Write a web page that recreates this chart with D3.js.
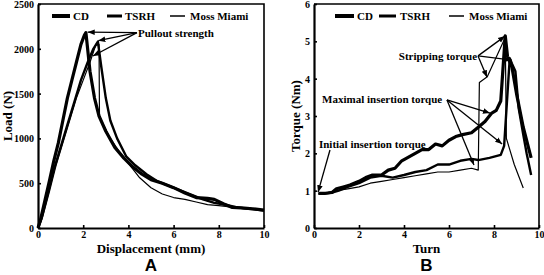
<!DOCTYPE html>
<html><head><meta charset="utf-8">
<script src="https://cdn.jsdelivr.net/npm/d3@7"></script>
<style>
body{margin:0;background:#fff;}
svg text{font-family:"Liberation Serif","Times New Roman",serif;font-weight:bold;fill:#000;}
</style></head>
<body><svg id="c" width="544" height="275"></svg>
<script>
// ---------- Data: Panel A (Load vs Displacement) ----------
const cdA_x = [0,0.1,0.3,0.5,0.7,0.9,1.1,1.3,1.5,1.7,1.9,2.05,2.12,2.3,2.5,2.7,3.0,3.4,3.8,4.2,4.6,5.0,5.5,6.0,6.5,7.0,7.5,7.8,8.2,8.6,9.0,9.5,10];
const cdA_y = [0,80,300,520,750,950,1200,1450,1650,1850,2050,2150,2180,1750,1450,1250,1080,900,780,680,600,540,500,450,390,340,330,320,270,230,225,215,200];
const tsA_x = [0,0.15,0.4,0.7,1.0,1.3,1.6,1.9,2.2,2.45,2.65,2.8,3.0,3.2,3.5,3.9,4.3,4.8,5.3,5.8,6.3,6.8,7.3,7.8,8.3,8.8,9.3,10];
const tsA_y = [0,100,350,650,900,1150,1400,1650,1850,2000,2080,1800,1450,1200,1000,800,700,600,520,470,420,370,320,280,260,230,215,195];
const mmA_x = [0,0.2,0.5,0.8,1.1,1.4,1.7,2.0,2.3,2.55,2.7,2.72,2.9,3.2,3.6,4.0,4.5,5.0,5.5,6.0,6.5,7.0,7.5,8.0,8.5,9.0,9.5,10];
const mmA_y = [0,120,400,700,950,1200,1450,1650,1850,2040,2050,1250,1150,1000,850,720,560,450,380,340,320,290,260,250,235,220,210,200];
const ticksA_x = [0,2,4,6,8,10];
const ticksA_y = [0,500,1000,1500,2000,2500];

// ---------- Data: Panel B (Torque vs Turn) ----------
const cdB_x = [0.2,0.5,0.8,1.0,1.3,1.6,2.0,2.3,2.6,3.0,3.3,3.6,3.9,4.2,4.5,4.8,5.1,5.4,5.7,6.0,6.3,6.6,7.0,7.3,7.6,7.9,8.1,8.3,8.5,8.6,8.8,9.0,9.3,9.65];
const cdB_y = [0.93,0.93,0.95,1.05,1.1,1.15,1.25,1.35,1.42,1.42,1.55,1.6,1.8,1.9,2.0,2.1,2.1,2.25,2.2,2.35,2.45,2.5,2.55,2.7,2.85,3.08,3.15,3.4,5.15,4.6,4.3,3.6,2.7,1.88];
const tsB_x = [0.2,0.5,0.8,1.1,1.5,2.0,2.5,3.0,3.5,4.0,4.5,5.0,5.5,6.0,6.5,7.0,7.3,7.8,8.3,8.45,8.7,8.8,8.95,9.1,9.3,9.45,9.65];
const tsB_y = [0.92,0.92,0.95,1.0,1.1,1.2,1.35,1.4,1.35,1.42,1.5,1.55,1.7,1.7,1.8,1.85,1.82,1.88,1.96,2.2,4.55,4.4,4.2,3.2,2.5,2.0,1.42];
const mmB_x = [0.2,0.6,1.0,1.5,2.0,2.5,3.0,3.5,4.0,4.5,5.0,5.5,6.0,6.5,7.0,7.3,7.35,7.7,8.5,8.55,8.9,9.3];
const mmB_y = [0.92,0.95,1.0,1.05,1.1,1.2,1.25,1.3,1.35,1.4,1.45,1.5,1.5,1.55,1.6,1.55,3.9,4.05,5.1,2.4,1.7,1.07];
const ticksB_x = [0,2,4,6,8,10];
const ticksB_y = [0,1,2,3,4,5,6];

// Annotations (data units): label anchor + arrow targets
const annA = {text:"Pullout strength", from:[4.38,2180], to:[[2.2,2185],[2.67,2090],[2.43,1920]]};
const annB = [
  {text:"Stripping torque", from:[7.29,4.61], to:[[8.49,5.14],[8.78,4.5],[7.69,4.04]], anchor:"end", lx:7.25, ly:4.5},
  {text:"Maximal insertion torque", from:[5.91,3.43], to:[[7.82,3.08],[7.11,1.69],[8.36,2.25]], anchor:"end", lx:5.7, ly:3.35},
  {text:"Initial insertion torque", from:[0.71,2.09], to:[[0.18,0.96]], anchor:"start", lx:0.22, ly:2.15}
];

const svg = d3.select("#c");
const defs = svg.append("defs");
defs.append("marker").attr("id","arr").attr("viewBox","0 0 10 10").attr("refX",10).attr("refY",5)
  .attr("markerWidth",7).attr("markerHeight",7).attr("markerUnits","userSpaceOnUse").attr("orient","auto")
  .append("path").attr("d","M0,1 L10,5 L0,9 Z").attr("fill","#000");

function panel(o){
  const g = svg.append("g");
  const x = d3.scaleLinear().domain([0,10]).range([o.x0,o.x1]);
  const y = d3.scaleLinear().domain(o.ydom).range([o.y1,o.y0]);
  // frame top/right
  g.append("path").attr("d",`M${o.x0},${o.y0}H${o.x1}V${o.y1}`).attr("fill","none").attr("stroke","#000").attr("stroke-width",1.6);
  const xa = g.append("g").attr("transform",`translate(0,${o.y1})`)
    .call(d3.axisBottom(x).tickValues(o.xt).tickSizeInner(-3).tickSizeOuter(0).tickPadding(3).tickFormat(d3.format("d")));
  const ya = g.append("g").attr("transform",`translate(${o.x0},0)`)
    .call(d3.axisLeft(y).tickValues(o.yt).tickSizeInner(-3).tickSizeOuter(0).tickPadding(4).tickFormat(d3.format("d")));
  [xa,ya].forEach(a=>{
    a.select(".domain").attr("stroke-width",2.2);
    a.selectAll(".tick line").attr("stroke-width",1.6);
    a.selectAll("text").style("font-size","10px").attr("font-family",null);
  });
  ya.selectAll(".tick text").attr("dy","0.35em");
  const line = d3.line().x(d=>x(d[0])).y(d=>y(d[1]));
  o.series.forEach(s=>{
    g.append("path").datum(d3.zip(s.x,s.y)).attr("d",line).attr("fill","none")
      .attr("stroke","#000").attr("stroke-width",s.w).attr("stroke-linejoin","round");
  });
  // legend
  o.legend.forEach(l=>{
    g.append("line").attr("x1",l.lx0).attr("x2",l.lx1).attr("y1",o.y0+12).attr("y2",o.y0+12)
      .attr("stroke","#000").attr("stroke-width",l.w);
    g.append("text").attr("x",l.tx).attr("y",o.y0+16).style("font-size","11px").text(l.t);
  });
  g.append("text").attr("x",(o.x0+o.x1)/2).attr("y",253).attr("text-anchor","middle").style("font-size","13px").text(o.xlab);
  g.append("text").attr("transform",`translate(${o.ylx},${(o.y0+o.y1)/2}) rotate(-90)`).attr("text-anchor","middle").style("font-size","13px").text(o.ylab);
  g.append("text").attr("x",(o.x0+o.x1)/2).attr("y",271).attr("text-anchor","middle")
    .style("font-family","'Liberation Sans',Arial,sans-serif").style("font-size","17px").text(o.letter);
  return {g,x,y};
}

const A = panel({x0:38,x1:264,y0:4,y1:228,ydom:[0,2500],xt:ticksA_x,yt:ticksA_y,
  series:[{x:cdA_x,y:cdA_y,w:3.2},{x:tsA_x,y:tsA_y,w:2.4},{x:mmA_x,y:mmA_y,w:1.2}],
  legend:[{lx0:52,lx1:70,w:4,tx:73,t:"CD"},{lx0:107,lx1:122,w:3,tx:125,t:"TSRH"},{lx0:170,lx1:185,w:1.5,tx:190,t:"Moss Miami"}],
  xlab:"Displacement (mm)",ylab:"Load (N)",ylx:12,letter:"A"});

const B = panel({x0:314,x1:539,y0:4,y1:228,ydom:[0,6],xt:ticksB_x,yt:ticksB_y,
  series:[{x:cdB_x,y:cdB_y,w:3.2},{x:tsB_x,y:tsB_y,w:2.4},{x:mmB_x,y:mmB_y,w:1.2}],
  legend:[{lx0:335,lx1:354,w:4,tx:357,t:"CD"},{lx0:379,lx1:396,w:3,tx:400,t:"TSRH"},{lx0:449,lx1:464,w:1.5,tx:469,t:"Moss Miami"}],
  xlab:"Turn",ylab:"Torque (Nm)",ylx:300,letter:"B"});

// annotations A
A.g.append("text").attr("x",A.x(annA.from[0])+1).attr("y",A.y(annA.from[1])+4).style("font-size","11px").text(annA.text);
annA.to.forEach(t=>{
  A.g.append("line").attr("x1",A.x(annA.from[0])).attr("y1",A.y(annA.from[1]))
    .attr("x2",A.x(t[0])).attr("y2",A.y(t[1])).attr("stroke","#000").attr("stroke-width",1.3).attr("marker-end","url(#arr)");
});
annB.forEach(a=>{
  B.g.append("text").attr("x",B.x(a.lx)).attr("y",B.y(a.ly)).attr("text-anchor",a.anchor).style("font-size","11px").text(a.text);
  a.to.forEach(t=>{
    B.g.append("line").attr("x1",B.x(a.from[0])).attr("y1",B.y(a.from[1]))
      .attr("x2",B.x(t[0])).attr("y2",B.y(t[1])).attr("stroke","#000").attr("stroke-width",1.3).attr("marker-end","url(#arr)");
  });
});
</script></body></html>
